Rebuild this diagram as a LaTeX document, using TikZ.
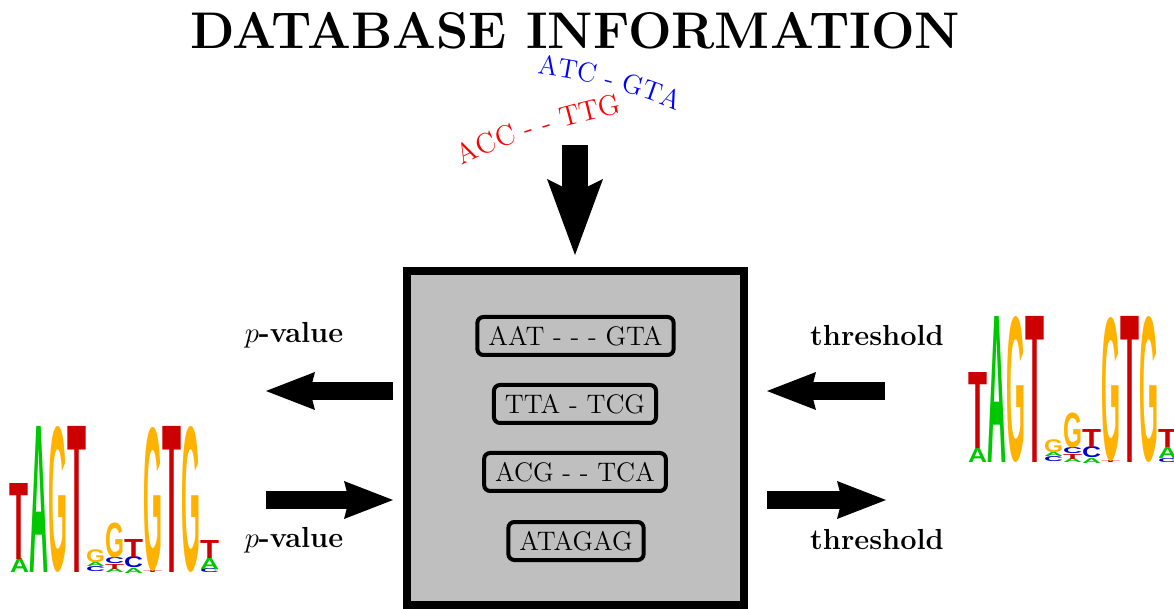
\documentclass[tikz,border=0pt]{standalone}
\usepackage{fontspec}
\usetikzlibrary{arrows.meta,decorations.text}

\newfontfamily\logofont{Liberation Sans}
\newdimen\unitpx \unitpx=0.5pt

\definecolor{lgA}{RGB}{0,200,0}
\definecolor{lgC}{RGB}{0,0,204}
\definecolor{lgG}{RGB}{255,179,0}
\definecolor{lgT}{RGB}{204,0,0}

\tikzset{every picture/.style={line width=0.75pt}}
\tikzset{
  fatarrow/.style={line width=9pt,-{Stealth[length=24.5pt,width=19pt,inset=2.5pt,line width=0pt]}},
  downarrow/.style={line width=13pt,-{Stealth[length=38pt,width=28pt,inset=7pt,line width=0pt]}},
  seqbox/.style={draw,line width=2pt,rounded corners=3pt,inner xsep=5.5pt,inner ysep=0pt,
    minimum height=19pt,font=\fontsize{13.4}{16}\selectfont},
  sidelabel/.style={anchor=base,font=\fontsize{14.5}{17}\bfseries\selectfont},
  logochar/.style={anchor=south west,inner sep=0pt,outer sep=0pt,font=\logofont\bfseries}
}

\begin{document}
\begin{tikzpicture}[x=0.5pt,y=0.5pt,yscale=-1,xscale=1]
	\useasboundingbox (0,0) rectangle (1174,609);

	% Text Node
	\node[anchor=base,font=\fontsize{25.8}{30}\bfseries\selectfont] (title) at (575,49) {DATABASE INFORMATION};

	%Curved text
	\path[decorate,decoration={text along path,text align=left,text color=blue,
	  text={|\fontsize{13.6}{16}\selectfont|ATC - GTA}}]
	  (537,74) .. controls (586,80) and (635,92) .. (682,113);
	\path[decorate,decoration={text along path,text align=left,text color=red,
	  text={|\fontsize{14.2}{17}\selectfont|ACC - - TTG}}]
	  (462,166) .. controls (512,140) and (570,124) .. (628,112);

	%Shape: Rectangle [database]
	\node[draw,line width=4pt,fill=black!25,minimum width=168.5pt,minimum height=167pt,inner sep=0pt] (db) at (575.5,438) {};

	% Text Node
	\node[seqbox] (s1) at (575.5,336) {AAT - - - GTA};
	% Text Node
	\node[seqbox] (s2) at (575,404) {TTA - TCG};
	% Text Node
	\node[seqbox] (s3) at (575,472) {ACG - - TCA};
	% Text Node
	\node[seqbox] (s4) at (576,541) {ATAGAG};

	%Arrows
	\coordinate (dnA) at (575,145);
	\coordinate (dnB) at (575,255);
	\draw[downarrow] (dnA) -- (dnB);
	\coordinate (pvA) at (393,391);
	\coordinate (pvB) at (266,391);
	\draw[fatarrow] (pvA) -- (pvB);
	\coordinate (pvC) at (266,500);
	\coordinate (pvD) at (393,500);
	\draw[fatarrow] (pvC) -- (pvD);
	\coordinate (thA) at (885,391);
	\coordinate (thB) at (767,391);
	\draw[fatarrow] (thA) -- (thB);
	\coordinate (thC) at (767,500);
	\coordinate (thD) at (886,500);
	\draw[fatarrow] (thC) -- (thD);

	% Text Node
	\node[sidelabel] (pv1) at (294,343) {$p$-value};
	% Text Node
	\node[sidelabel] (pv2) at (294,547) {$p$-value};
	% Text Node
	\node[sidelabel] (th1) at (877,346) {threshold};
	% Text Node
	\node[sidelabel] (th2) at (877,550) {threshold};

	%Sequence logos
	\foreach \sx/\sy [count=\k] in {0/0,958/-110}{
	\begin{scope}[shift={(\sx,\sy)}]
	\foreach \xa/\ya/\ha/\ca/\la [count=\j] in {
	  10/573/14/lgA/A, 10/559/76/lgT/T,
	  29/573/146/lgA/A,
	  48/573/146/lgG/G,
	  67/573/146/lgT/T,
	  86/572/5/lgC/C, 86/567/4/lgA/A, 86/563/13/lgG/G,
	  105/573/4/lgA/A, 105/569/5/lgT/T, 105/564/6/lgC/C, 105/558/35/lgG/G,
	  124/573/5/lgA/A, 124/568/11/lgC/C, 124/557/18/lgT/T,
	  143/573/2/lgT/T, 143/571/144/lgG/G,
	  162/573/146/lgT/T,
	  181/573/146/lgG/G,
	  200/573/4/lgC/C, 200/569/11/lgA/A, 200/558/18/lgT/T}
	  \node[logochar] (m\k-\j) at (\xa,\ya) {\resizebox*{19\unitpx}{\ha\unitpx}{\textcolor{\ca}{\la}}};
	\end{scope}
	}

\end{tikzpicture}
\end{document}
